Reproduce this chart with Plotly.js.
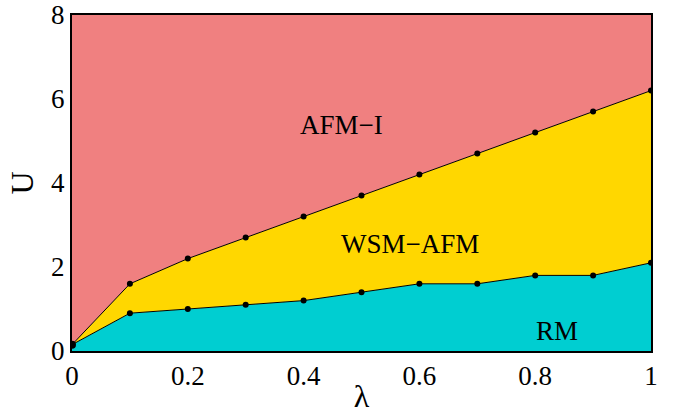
<!DOCTYPE html>
<html><head><meta charset="utf-8">
<script src="https://cdn.plot.ly/plotly-3.0.1.min.js"></script>
<style>body{margin:0;padding:0;background:#fff}</style>
</head><body>
<div id="chart" style="width:677px;height:414px"></div>
<script>
const lambda = [0, 0.1, 0.2, 0.3, 0.4, 0.5, 0.6, 0.7, 0.8, 0.9, 1.0];
const uLower = [0.15, 0.9, 1.0, 1.1, 1.2, 1.4, 1.6, 1.6, 1.8, 1.8, 2.1];
const uUpper = [0.15, 1.6, 2.2, 2.7, 3.2, 3.7, 4.2, 4.7, 5.2, 5.7, 6.2];
const uTop = [8, 8, 8, 8, 8, 8, 8, 8, 8, 8, 8];
const xTicks = [0, 0.2, 0.4, 0.6, 0.8, 1];
const xTickText = ["0", "0.2", "0.4", "0.6", "0.8", "1"];
const yTicks = [0, 2, 4, 6, 8];
const phaseLabels = ["AFM\u2212I", "WSM\u2212AFM", "RM"];
const phaseX = [0.465, 0.584, 0.838];
const phaseY = [5.39, 2.54, 0.47];

const font = "Liberation Serif";
const traces = [
  {x: lambda, y: uLower, mode: "lines+markers", fill: "tozeroy", fillcolor: "#00CED1",
   line: {color: "#000", width: 1}, marker: {color: "#000", size: 6}, hoverinfo: "skip"},
  {x: lambda, y: uUpper, mode: "lines+markers", fill: "tonexty", fillcolor: "#FFD700",
   line: {color: "#000", width: 1}, marker: {color: "#000", size: 6}, hoverinfo: "skip"},
  {x: lambda, y: uTop, mode: "lines", fill: "tonexty", fillcolor: "#F08080",
   line: {color: "rgba(0,0,0,0)", width: 0}, hoverinfo: "skip"},
  {x: [lambda[0]], y: [uLower[0]], mode: "markers", marker: {color: "#000", size: 8}, hoverinfo: "skip"}
];
const layout = {
  width: 677, height: 414,
  margin: {l: 72, r: 26, t: 15, b: 63},
  showlegend: false,
  paper_bgcolor: "#fff", plot_bgcolor: "#fff",
  font: {family: font, color: "#000", size: 27},
  xaxis: {range: [0, 1], tickvals: xTicks, ticktext: xTickText, ticks: "inside", ticklen: 0, tickcolor: "rgba(0,0,0,0)",
    showgrid: false, zeroline: false, showline: true, linecolor: "#000", linewidth: 2, mirror: true,
    tickfont: {family: font, size: 27}, title: {text: "\u03bb", font: {family: font, size: 32}, standoff: 6}},
  yaxis: {range: [0, 8], tickvals: yTicks, ticks: "",
    showgrid: false, zeroline: false, showline: true, linecolor: "#000", linewidth: 2, mirror: true,
    tickfont: {family: font, size: 27}, title: {text: "U", font: {family: font, size: 32}, standoff: 8}},
  annotations: phaseLabels.map((t, i) => ({x: phaseX[i], y: phaseY[i], text: t, showarrow: false,
    font: {family: font, size: 27, color: "#000"}}))
};
Plotly.newPlot("chart", traces, layout, {displayModeBar: false, staticPlot: true});
</script>
</body></html>
